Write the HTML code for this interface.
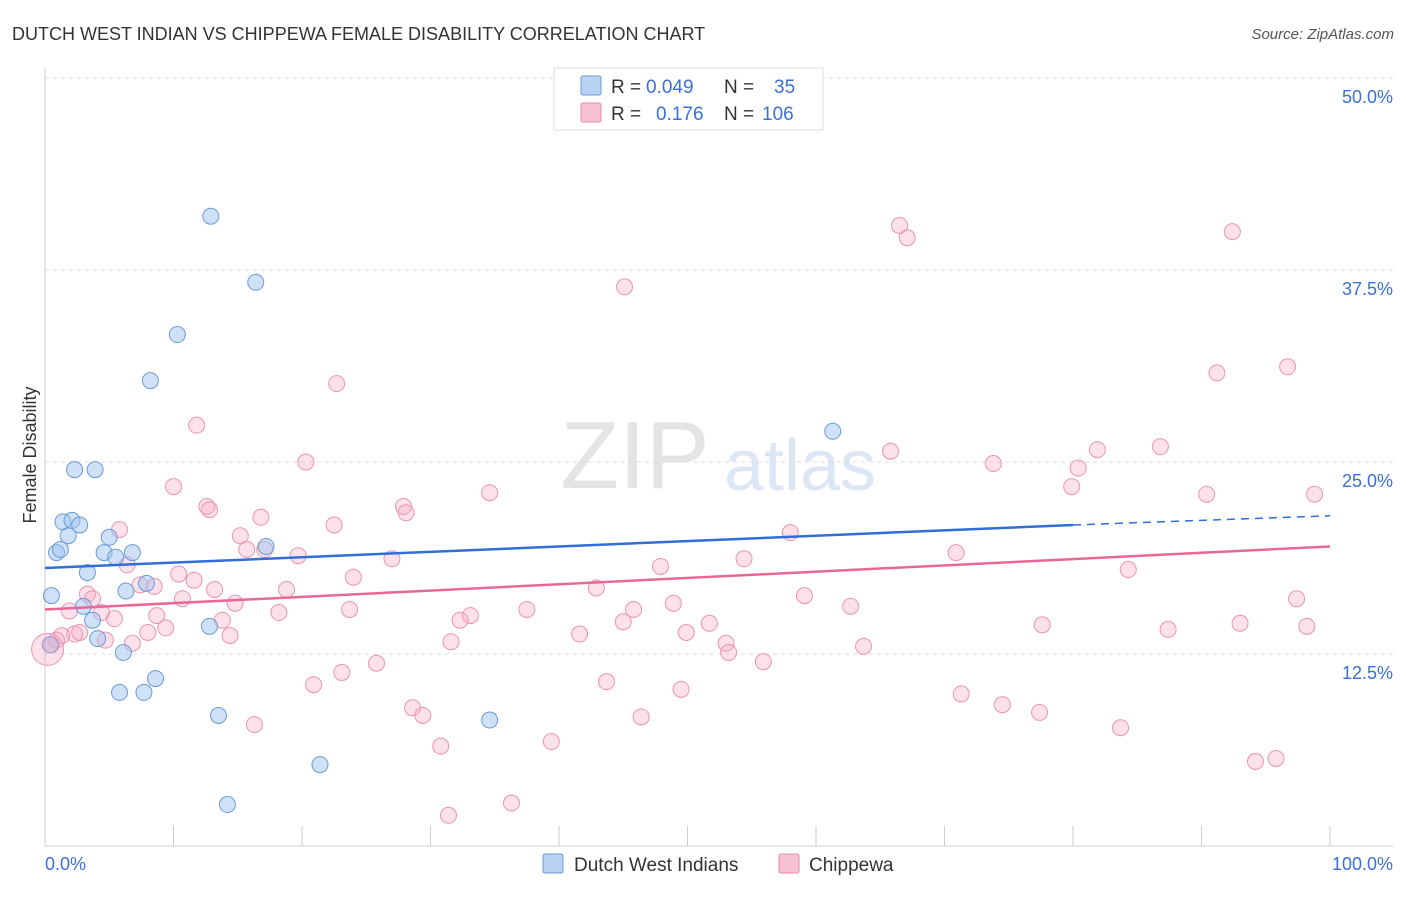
<!DOCTYPE html>
<html><head><meta charset="utf-8"><style>
body{margin:0;background:#fff;font-family:"Liberation Sans",sans-serif}
svg text{font-family:"Liberation Sans",sans-serif}
</style></head><body>
<svg id="c" width="1406" height="892" xmlns="http://www.w3.org/2000/svg">
<text x="12" y="40" font-size="18" fill="#333">DUTCH WEST INDIAN VS CHIPPEWA FEMALE DISABILITY CORRELATION CHART</text>
<text x="1394" y="39" font-size="15" fill="#555" font-style="italic" text-anchor="end">Source: ZipAtlas.com</text>
<text x="635" y="488" font-size="96" fill="#e4e4e4" font-family="Liberation Serif" text-anchor="middle">ZIP</text>
<text x="800" y="490" font-size="72" fill="#dce6f4" text-anchor="middle">atlas</text>
<g id="grid"></g>
<g id="pts"></g>
<g id="trend"></g>
<text x="36" y="455" font-size="18" fill="#333" text-anchor="middle" transform="rotate(-90 36 455)">Female Disability</text>
<text x="45" y="870" font-size="18" fill="#3a6fd8">0.0%</text>
<text x="1393" y="870" font-size="18" fill="#3a6fd8" text-anchor="end">100.0%</text>
<g>
<rect x="554" y="68" width="269" height="62" fill="#fff" stroke="#ddd"/>
<rect x="581" y="76" width="20" height="19" fill="#b9d3f3" stroke="#6a9ad8" rx="2"/>
<rect x="581" y="103" width="20" height="19" fill="#f7c3d3" stroke="#e889a8" rx="2"/>
<text x="611" y="93" font-size="19" fill="#333">R = <tspan fill="#3a6fd8" x="646">0.049</tspan><tspan x="724">N =</tspan><tspan fill="#3a6fd8" x="774">35</tspan></text>
<text x="611" y="120" font-size="19" fill="#333">R = <tspan fill="#3a6fd8" x="656">0.176</tspan><tspan x="724">N = </tspan><tspan fill="#3a6fd8" x="762">106</tspan></text>
</g>
<g>
<rect x="543" y="854" width="20" height="19" fill="#b9d3f3" stroke="#6a9ad8" rx="2"/>
<text x="574" y="871" font-size="19" fill="#333">Dutch West Indians</text>
<rect x="779" y="854" width="20" height="19" fill="#f7c3d3" stroke="#e889a8" rx="2"/>
<text x="809" y="871" font-size="19" fill="#333">Chippewa</text>
</g>
</svg>
<script>
const yTicks=[12.5,25.0,37.5,50.0];
const xTicks=[0,10,20,30,40,50,60,70,80,90,100];
const blueX=[12.9,16.4,10.3,8.2,61.3,2.3,3.9,1.4,2.1,2.7,1.8,5.0,0.9,1.2,4.6,6.8,5.5,17.2,3.3,7.9,6.3,0.5,3.0,3.7,12.8,4.1,0.4,6.1,8.6,5.8,7.7,13.5,34.6,21.4,14.2];
const blueY=[41.0,36.7,33.3,30.3,27.0,24.5,24.5,21.1,21.2,20.9,20.2,20.1,19.1,19.3,19.1,19.1,18.8,19.5,17.8,17.1,16.6,16.3,15.6,14.7,14.3,13.5,13.1,12.6,10.9,10.0,10.0,8.5,8.2,5.3,2.7];
const pinkX=[66.5,67.1,92.4,45.1,91.2,96.7,22.7,11.8,65.8,86.8,81.9,20.3,73.8,80.4,10.0,79.9,34.6,90.4,98.8,27.9,28.1,12.6,12.8,16.8,5.8,22.5,15.2,58.0,15.7,17.1,19.7,27.0,70.9,54.4,6.4,47.9,84.3,10.4,11.6,24.0,7.4,8.5,13.2,18.8,42.9,3.3,3.7,10.7,59.1,14.8,48.9,1.9,4.4,23.7,37.5,62.7,45.8,97.4,18.2,8.7,33.1,32.3,45.0,5.4,13.8,51.7,77.6,93.0,98.2,49.9,41.6,87.4,9.4,8.0,2.3,1.3,0.9,2.7,0.5,4.7,6.8,14.4,31.6,53.0,53.2,63.7,55.9,25.8,23.1,20.9,43.7,49.5,71.3,28.6,29.4,74.5,77.4,46.4,16.3,83.7,39.4,30.8,94.2,95.8,36.3,31.4];
const pinkY=[40.4,39.6,40.0,36.4,30.8,31.2,30.1,27.4,25.7,26.0,25.8,25.0,24.9,24.6,23.4,23.4,23.0,22.9,22.9,22.1,21.7,22.1,21.9,21.4,20.6,20.9,20.2,20.4,19.3,19.3,18.9,18.7,19.1,18.7,18.3,18.2,18.0,17.7,17.3,17.5,17.0,16.9,16.7,16.7,16.8,16.4,16.1,16.1,16.3,15.8,15.8,15.3,15.2,15.4,15.4,15.6,15.4,16.1,15.2,15.0,15.0,14.7,14.6,14.8,14.7,14.5,14.4,14.5,14.3,13.9,13.8,14.1,14.2,13.9,13.8,13.7,13.4,13.9,13.1,13.4,13.2,13.7,13.3,13.2,12.6,13.0,12.0,11.9,11.3,10.5,10.7,10.2,9.9,9.0,8.5,9.2,8.7,8.4,7.9,7.7,6.8,6.5,5.5,5.7,2.8,2.0];
const blueTrend=[18.1,20.9,21.5];
const blueTrendX=[0,80,100];
const pinkTrend=[15.4,19.5];
const pinkTrendX=[0,100];
const NS='http://www.w3.org/2000/svg';
function sx(v){return 45+v*12.85;}
function sy(v){return 846-v*15.36;}
function mk(t,a,p){const e=document.createElementNS(NS,t);for(const k in a)e.setAttribute(k,a[k]);p.appendChild(e);return e;}
const grid=document.getElementById('grid');
yTicks.forEach(v=>{
 const l=mk('line',{x1:45,x2:1393,y1:sy(v),y2:sy(v),stroke:'#ddd','stroke-dasharray':'4 4'},grid);
 
 
 const t=mk('text',{x:1393,y:sy(v)+25,'font-size':18,fill:'#3a6fd8','text-anchor':'end'},grid);
 t.textContent=v.toFixed(1)+'%';
 
 
});
const ax=mk('line',{x1:45,x2:45,y1:68,y2:846,stroke:'#ccc'},grid);


const bx=mk('line',{x1:45,x2:1393,y1:846,y2:846,stroke:'#ccc'},grid);


xTicks.forEach(v=>{
 const l=mk('line',{x1:sx(v),x2:sx(v),y1:826,y2:846,stroke:'#ccc'},grid);
 
 
});
const pts=document.getElementById('pts');
pinkX.forEach((x,i)=>{
 const c=mk('circle',{cx:sx(x),cy:sy(pinkY[i]),r:8,fill:'rgba(245,170,195,0.35)',stroke:'#eb93b1','stroke-width':1},pts);
 
 
});
blueX.forEach((x,i)=>{
 const c=mk('circle',{cx:sx(x),cy:sy(blueY[i]),r:8,fill:'rgba(160,195,240,0.5)',stroke:'#6a9ad8','stroke-width':1},pts);
 
 
});
const big=mk('circle',{cx:sx(0.2),cy:sy(12.8),r:16,fill:'rgba(245,170,195,0.35)',stroke:'#eb93b1'},pts);


const tr=document.getElementById('trend');
const b1=mk('line',{x1:sx(blueTrendX[0]),y1:sy(blueTrend[0]),x2:sx(blueTrendX[1]),y2:sy(blueTrend[1]),stroke:'#2f6fd6','stroke-width':2.5},tr);


const b2=mk('line',{x1:sx(blueTrendX[1]),y1:sy(blueTrend[1]),x2:sx(blueTrendX[2]),y2:sy(blueTrend[2]),stroke:'#2f6fd6','stroke-width':1.5,'stroke-dasharray':'8 6'},tr);


const p1=mk('line',{x1:sx(pinkTrendX[0]),y1:sy(pinkTrend[0]),x2:sx(pinkTrendX[1]),y2:sy(pinkTrend[1]),stroke:'#e8679a','stroke-width':2.5},tr);


</script>
</body></html>
